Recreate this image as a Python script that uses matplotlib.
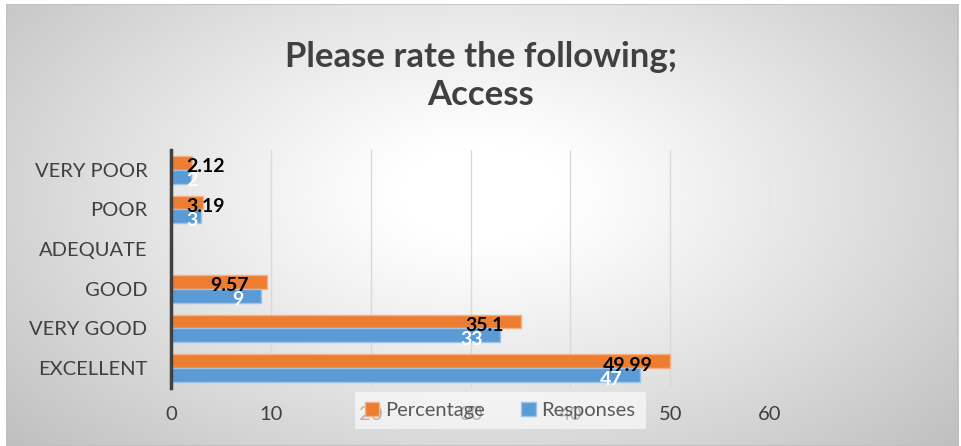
import numpy as np
import matplotlib.pyplot as plt
from matplotlib.patches import Rectangle

categories = ['VERY POOR', 'POOR', 'ADEQUATE', 'GOOD', 'VERY GOOD', 'EXCELLENT']
percentage = [2.12, 3.19, 0, 9.57, 35.1, 49.99]
responses = [2, 3, 0, 9, 33, 47]
pct_labels = ['2.12', '3.19', '', '9.57', '35.1', '49.99']
resp_labels = ['2', '3', '', '9', '33', '47']
x_ticks = [0, 10, 20, 30, 40, 50, 60]

orange = '#ED7D31'
blue = '#5B9BD5'
txt = '#404040'

plt.rcParams['font.family'] = ['Lato', 'DejaVu Sans']

fig = plt.figure(figsize=(9.62, 4.46), dpi=100)
fig.patch.set_facecolor('white')

# radial gradient background like the Excel chart area
bg = fig.add_axes([0.006, 0.0, 0.99, 0.99])
yy, xx = np.mgrid[0:446, 0:962]
r = np.sqrt(((xx - 480) / 560.0) ** 2 + ((yy - 190) / 330.0) ** 2)
shade = 1.0 - 0.25 * np.clip(r - 0.15, 0, 1) ** 1.1
bg.imshow(np.dstack([shade] * 3), aspect='auto', extent=[0, 1, 0, 1])
bg.set_axis_off()
bg.add_patch(Rectangle((0, 0), 1, 1, transform=bg.transAxes, fill=False,
                       edgecolor='#bfbfbf', linewidth=1.2))

ax = fig.add_axes([0.1778, 0.130, 0.6226, 0.534])
ax.patch.set_alpha(0)

y = np.arange(len(categories))
h = 0.35
ax.barh(y - h / 2, percentage, height=h, color=orange, edgecolor='#f4b183',
        linewidth=1, label='Percentage', zorder=3)
ax.barh(y + h / 2, responses, height=h, color=blue, edgecolor='#9dc3e6',
        linewidth=1, label='Responses', zorder=3)

for i in range(len(categories)):
    for val, lab, off, col in [(percentage[i], pct_labels[i], -h / 2 + 0.1, 'black'),
                               (responses[i], resp_labels[i], h / 2 + 0.1, 'white')]:
        if not lab:
            continue
        if val < 5:
            ax.text(1.5, y[i] + off, lab, ha='left', va='center', fontsize=14,
                    fontweight='bold', color=col, zorder=5)
        else:
            ax.text(val - 1.75, y[i] + off, lab, ha='right', va='center', fontsize=14,
                    fontweight='bold', color=col, zorder=5)

ax.set_xlim(0, 60)
ax.set_ylim(len(categories) - 0.5, -0.5)
ax.set_xticks(x_ticks)
ax.set_yticks(y)
ax.set_yticklabels(categories)
ax.tick_params(axis='both', length=0, colors=txt, labelsize=14.5)
ax.tick_params(axis='y', pad=17)
ax.tick_params(axis='x', pad=13)
ax.grid(axis='x', color='#d9d9d9', linewidth=1, zorder=0)
for s in ['top', 'right', 'bottom']:
    ax.spines[s].set_visible(False)
ax.spines['left'].set_color('#404040')
ax.spines['left'].set_linewidth(2.5)
ax.spines['left'].set_zorder(4)

fig.text(0.5, 0.83, 'Please rate the following;\nAccess', ha='center', va='center',
         fontsize=25, fontweight='bold', color=txt, linespacing=1.25)

leg = ax.legend(loc='center', bbox_to_anchor=(0.55, -0.095), ncol=2, frameon=True,
                fontsize=14.5, handlelength=0.7, handleheight=0.7, columnspacing=1.8,
                handletextpad=0.3, borderpad=0.5)
leg.get_frame().set_facecolor('white')
leg.get_frame().set_alpha(0.6)
leg.get_frame().set_edgecolor('none')
leg.get_frame().set_boxstyle('square', pad=0.0)
for t in leg.get_texts():
    t.set_color('#595959')

fig.savefig('out.png', dpi=100)
